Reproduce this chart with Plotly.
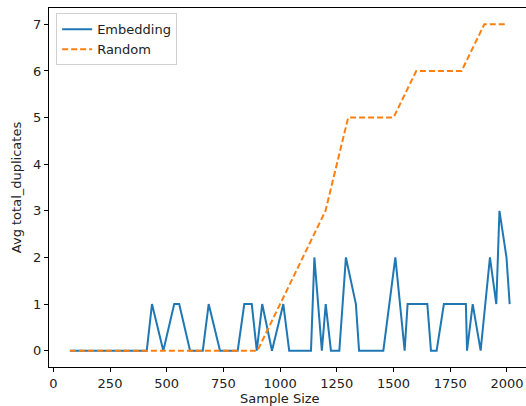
import plotly.graph_objects as go

# Embedding series (vertices)
emb_x = [73, 412, 435, 485, 533, 555, 603, 659, 685, 735, 813, 842, 875, 897, 921,
         964, 1014, 1040, 1136, 1151, 1184, 1201, 1224, 1261, 1290, 1334, 1348, 1455,
         1508, 1549, 1562, 1649, 1665, 1690, 1722, 1819, 1824, 1849, 1884, 1925, 1953,
         1967, 1998, 2012]
emb_y = [0, 0, 1, 0, 1, 1, 0, 0, 1, 0, 0, 1, 1, 0, 1,
         0, 1, 0, 0, 2, 0, 1, 0, 0, 2, 1, 0, 0,
         2, 0, 1, 1, 0, 0, 1, 1, 0, 1, 0, 2, 1,
         3, 2, 1]

# Random series
rand_x = [73, 100, 200, 300, 400, 500, 600, 700, 800, 900, 1000, 1100, 1200, 1300,
          1400, 1500, 1600, 1700, 1800, 1900, 2000]
rand_y = [0, 0, 0, 0, 0, 0, 0, 0, 0, 0, 1, 2, 3, 5, 5, 5, 6, 6, 6, 7, 7]

x_ticks = [0, 250, 500, 750, 1000, 1250, 1500, 1750, 2000]
y_ticks = [0, 1, 2, 3, 4, 5, 6, 7]

FONT = "DejaVu Sans"

fig = go.Figure()
fig.add_trace(go.Scatter(x=emb_x, y=emb_y, mode="lines", name="Embedding",
                         line=dict(color="#1f77b4", width=2)))
fig.add_trace(go.Scatter(x=rand_x, y=rand_y, mode="lines", name="Random",
                         line=dict(color="#ff7f0e", width=2, dash="6px,3px")))

fig.update_layout(
    width=526, height=406,
    margin=dict(l=49, r=0, t=8, b=39),
    paper_bgcolor="white", plot_bgcolor="white",
    font=dict(family=FONT, size=13, color="#222"),
    showlegend=True,
    legend=dict(x=0.015, y=0.985, xanchor="left", yanchor="top",
                bgcolor="rgba(255,255,255,0.8)", bordercolor="#d0d0d0", borderwidth=1,
                font=dict(family=FONT, size=13, color="#222"),
                tracegroupgap=0, itemwidth=30),
)
fig.update_xaxes(
    range=[-19, 2084], tickvals=x_ticks, ticktext=[str(v) for v in x_ticks],
    showgrid=False, zeroline=False, showline=True, linecolor="black", linewidth=1,
    mirror=True, ticks="outside", ticklen=4, tickcolor="black",
    automargin=False,
)
fig.update_yaxes(
    range=[-0.35, 7.35], tickvals=y_ticks,
    showgrid=False, zeroline=False, showline=True, linecolor="black", linewidth=1,
    mirror=False, ticks="outside", ticklen=4, tickcolor="black",
    title=dict(text="Avg total_duplicates", standoff=8, font=dict(size=13)),
    automargin=False,
)
# x-axis title placed near the bottom edge as in the reference
fig.add_annotation(text="Sample Size", xref="x", yref="paper",
                   x=1000, y=-0.087, xanchor="center", yanchor="middle",
                   showarrow=False, font=dict(family=FONT, size=13, color="#222"))

fig.write_html("out.html", config={"displayModeBar": False},
               post_script="document.body.style.margin='0';document.body.style.overflow='hidden';")
